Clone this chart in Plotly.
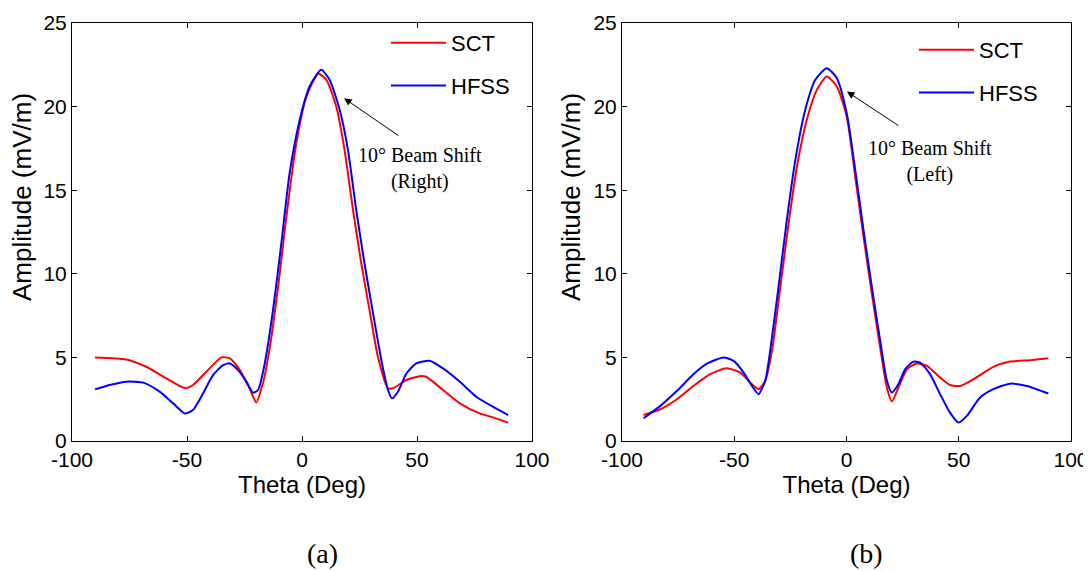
import plotly.graph_objects as go

# ---- data ----
a_sct_theta = [-90, -76.4, -67.7, -59, -51, -47.4, -41.6, -35, -31.4, -27, -22.8, -19.9, -17, -14,
               -10.4, -6.8, -2.5, 1.9, 7, 10.6, 14.9, 18.5, 22.2, 25.8, 29.4, 33, 37.4, 39.6,
               45.4, 51.2, 54, 61.3, 68.6, 77.2, 83, 89.6]
a_sct_amp = [5.0, 4.88, 4.44, 3.75, 3.17, 3.35, 4.14, 5.0, 4.94, 4.24, 3.15, 2.31, 3.45, 5.6,
             9.2, 13.4, 17.8, 20.6, 21.97, 21.6, 20.0, 17.4, 13.8, 10.6, 7.8, 5.04, 3.15, 3.15,
             3.65, 3.88, 3.84, 3.05, 2.25, 1.65, 1.41, 1.1]

a_hfss_theta = [-90, -83.6, -76.4, -69, -61.9, -56, -51, -47.4, -43, -38.7, -34.3, -31.4, -27.8,
                -24.2, -21.3, -19.1, -16.2, -12.6, -9, -5.4, -1, 3.3, 8.4, 12, 16.4, 20, 23.6,
                27.2, 30.9, 34.5, 37.4, 39.1, 41.7, 45.4, 49.7, 55.5, 61.3, 68.6, 75.8, 83, 89.6]
a_hfss_amp = [3.09, 3.35, 3.55, 3.49, 2.95, 2.25, 1.65, 1.85, 2.85, 3.94, 4.54, 4.64, 4.24,
              3.55, 2.89, 3.05, 4.64, 7.83, 11.8, 16.0, 19.2, 21.2, 22.2, 21.6, 19.8, 17.4, 13.8,
              10.6, 7.63, 4.84, 3.05, 2.55, 2.95, 4.04, 4.64, 4.8, 4.34, 3.55, 2.65, 2.05, 1.55]

b_sct_theta = [-90.4, -82.9, -75.5, -68.1, -60.7, -53.3, -47.3, -42.9, -39.2, -36.2, -33.2, -29.5,
               -25.8, -22.1, -17.7, -13.2, -8.8, -4.3, 0.1, 3.9, 7.6, 11.3, 15, 18, 20.2, 23.1,
               26.9, 31.3, 35.8, 41.7, 46.1, 50.6, 56.5, 65.4, 72.8, 81.8, 89.9]
b_sct_amp = [1.56, 1.9, 2.5, 3.3, 4.0, 4.35, 4.09, 3.49, 3.1, 3.6, 5.39, 9.2,
             13.0, 16.4, 19.2, 21.0, 21.8, 21.2, 19.4, 15.8, 12.2, 8.8, 5.59, 3.19, 2.36, 3.19,
             4.29, 4.63, 4.49, 3.79, 3.35, 3.29, 3.69, 4.43, 4.75, 4.83, 4.95]

b_hfss_theta = [-90.4, -82.9, -75.5, -68.1, -62.2, -54.7, -50.3, -45.8, -42.1, -39.2, -36.2, -34,
                -30.3, -26.6, -22.8, -18.4, -13.9, -8.8, -4.3, 0.1, 3.9, 7.6, 11.3, 15, 18, 20.2,
                23.1, 26.1, 29.8, 32.8, 37.2, 41.7, 46.1, 49.9, 53.6, 59.5, 65.4, 72.8, 80.3, 89.9]
b_hfss_amp = [1.36, 2.1, 3.0, 4.0, 4.63, 4.99, 4.79, 4.09, 3.29, 2.8, 3.6, 5.39,
              9.2, 13.2, 16.8, 19.8, 21.6, 22.3, 21.7, 19.6, 16.2, 12.6, 9.2, 6.0, 3.6, 2.9,
              3.39, 4.29, 4.75, 4.69, 4.0, 2.8, 1.7, 1.1, 1.5, 2.6, 3.1, 3.43, 3.29, 2.84]

x_ticks = [-100, -50, 0, 50, 100]
x_ticktext = ["-100", "-50", "0", "50", "100"]
y_ticks = [0, 5, 10, 15, 20, 25]
series_names = ["SCT", "HFSS"]
captions = ["(a)", "(b)"]
shift_labels = ["10° Beam Shift<br>(Right)", "10° Beam Shift<br>(Left)"]
x_title = "Theta (Deg)"
y_title = "Amplitude (mV/m)"

RED = "#ff0000"
BLUE = "#0000ff"
SANS = "Arial, Liberation Sans, sans-serif"
SERIF = "Times New Roman, Liberation Serif, serif"

# page has an 8px body margin: the figure sits at (8, 8) in the 1091x571 window
OFF = 8
W, H = 1091 - OFF, 571 - OFF


def px(x):
    return (x - OFF) / W


def py(y):
    return 1 - (y - OFF) / H


fig = go.Figure()


def add(theta, amp, name, color, xa, ya, legend, group):
    fig.add_trace(go.Scatter(
        x=theta, y=amp, name=name, mode="lines",
        line=dict(color=color, width=2, shape="spline", smoothing=0.6),
        xaxis=xa, yaxis=ya, legend=legend, legendgroup=group, showlegend=True))


add(a_sct_theta, a_sct_amp, series_names[0], RED, "x", "y", "legend", "a1")
add(a_hfss_theta, a_hfss_amp, series_names[1], BLUE, "x", "y", "legend", "a2")
add(b_sct_theta, b_sct_amp, series_names[0], RED, "x2", "y2", "legend2", "b1")
add(b_hfss_theta, b_hfss_amp, series_names[1], BLUE, "x2", "y2", "legend2", "b2")

ydom = [py(441), py(23)]
xdom1 = [px(72), px(532)]
xdom2 = [px(622), px(1071)]


def xaxis(dom, anchor):
    return dict(domain=dom, anchor=anchor, range=[-100, 100], tickvals=x_ticks,
                ticktext=x_ticktext,
                showline=True, linecolor="black", linewidth=1, mirror="ticks",
                ticks="inside", ticklen=5, tickcolor="black", showgrid=False, zeroline=False,
                tickfont=dict(family=SANS, size=21, color="black"), automargin=False,
                title=dict(text=x_title, font=dict(family=SANS, size=24, color="black"),
                           standoff=4))


def yaxis(dom, anchor):
    return dict(domain=dom, anchor=anchor, range=[0, 25], tickvals=y_ticks,
                showline=True, linecolor="black", linewidth=1, mirror="ticks",
                ticks="inside", ticklen=5, tickcolor="black", showgrid=False, zeroline=False,
                tickfont=dict(family=SANS, size=21, color="black"), automargin=False)


legend_common = dict(bgcolor="rgba(0,0,0,0)", borderwidth=0, traceorder="grouped",
                     tracegroupgap=11, font=dict(family=SANS, size=22, color="black"),
                     xanchor="left", yanchor="top", itemwidth=55)

fig.update_layout(
    width=W, height=H,
    paper_bgcolor="white", plot_bgcolor="white",
    margin=dict(l=0, r=0, t=0, b=0),
    xaxis=xaxis(xdom1, "y"), yaxis=yaxis(ydom, "x"),
    xaxis2=xaxis(xdom2, "y2"), yaxis2=yaxis(ydom, "x2"),
    legend=dict(x=px(386), y=py(22), **legend_common),
    legend2=dict(x=px(914), y=py(29), **legend_common),
)

# y-axis titles (placed as in the reference, above the centre of the axis)
for xc in (22, 571):
    fig.add_annotation(x=px(xc), y=py(197), xref="paper", yref="paper", text=y_title,
                       textangle=-90, showarrow=False, xanchor="center", yanchor="middle",
                       font=dict(family=SANS, size=26, color="black"))

# arrows + labels
fig.add_annotation(x=18.3, y=20.5, ax=42.6, ay=18.2, xref="x", yref="y", axref="x", ayref="y",
                   showarrow=True, arrowhead=2, arrowsize=1.5, arrowwidth=1, arrowcolor="black", text="")
fig.add_annotation(x=0.2, y=20.9, ax=23.8, ay=18.8, xref="x2", yref="y2", axref="x2", ayref="y2",
                   showarrow=True, arrowhead=2, arrowsize=1.5, arrowwidth=1, arrowcolor="black", text="")
fig.add_annotation(x=51.5, y=16.3, xref="x", yref="y", text=shift_labels[0], showarrow=False,
                   xanchor="center", yanchor="middle",
                   font=dict(family=SERIF, size=20, color="black"), align="center")
fig.add_annotation(x=37.0, y=16.7, xref="x2", yref="y2", text=shift_labels[1], showarrow=False,
                   xanchor="center", yanchor="middle",
                   font=dict(family=SERIF, size=20, color="black"), align="center")

# captions
for xc, cap in ((322, captions[0]), (866, captions[1])):
    fig.add_annotation(x=px(xc), y=py(553), xref="paper", yref="paper", text=cap,
                       showarrow=False, xanchor="center", yanchor="middle",
                       font=dict(family=SERIF, size=28, color="black"))

fig.write_html("out.html")
